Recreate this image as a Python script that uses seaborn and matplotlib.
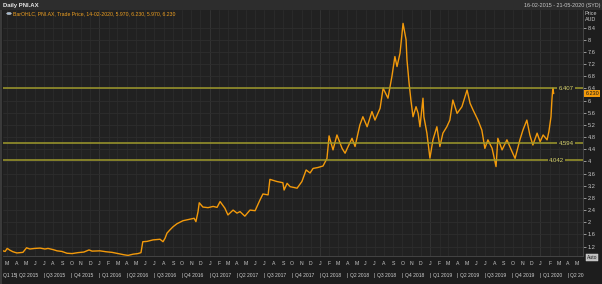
import matplotlib
matplotlib.use("Agg")
import matplotlib.pyplot as plt
from matplotlib.patches import Rectangle, Circle
import seaborn as sns
import pandas as pd

# ---------------- data ----------------
dates = [
    "2015-02-16", "2015-02-23", "2015-03-02", "2015-03-11", "2015-03-21", "2015-04-03", "2015-04-23",
    "2015-05-05", "2015-05-16", "2015-06-02", "2015-06-19", "2015-07-05", "2015-07-15", "2015-08-01",
    "2015-08-14", "2015-08-30", "2015-09-16", "2015-10-03", "2015-10-22", "2015-11-11", "2015-11-28",
    "2015-12-08", "2016-01-03", "2016-01-23", "2016-02-12", "2016-03-03", "2016-03-23", "2016-04-05",
    "2016-04-22", "2016-05-08", "2016-05-18", "2016-05-24", "2016-06-07", "2016-06-27", "2016-07-20",
    "2016-07-30", "2016-08-06", "2016-08-12", "2016-08-22", "2016-09-01", "2016-09-14", "2016-10-04",
    "2016-10-27", "2016-11-10", "2016-11-16", "2016-11-23", "2016-11-27", "2016-12-09", "2016-12-26",
    "2017-01-12", "2017-01-25", "2017-02-04", "2017-02-20", "2017-03-02", "2017-03-19", "2017-04-01",
    "2017-04-11", "2017-04-27", "2017-05-14", "2017-05-31", "2017-06-16", "2017-06-26", "2017-07-13",
    "2017-07-19", "2017-08-11", "2017-08-31", "2017-09-04", "2017-09-14", "2017-09-24", "2017-10-17",
    "2017-11-02", "2017-11-16", "2017-11-29", "2017-12-09", "2017-12-25", "2018-01-11", "2018-01-24",
    "2018-01-31", "2018-02-13", "2018-02-26", "2018-03-15", "2018-03-25", "2018-04-04", "2018-04-17",
    "2018-04-27", "2018-05-13", "2018-05-23", "2018-06-06", "2018-06-22", "2018-07-02", "2018-07-19",
    "2018-07-29", "2018-08-14", "2018-08-27", "2018-09-06", "2018-09-13", "2018-09-23", "2018-10-03",
    "2018-10-13", "2018-10-16", "2018-10-23", "2018-10-29", "2018-11-05", "2018-11-15", "2018-11-22",
    "2018-11-28", "2018-12-08", "2018-12-11", "2018-12-21", "2018-12-31", "2019-01-10", "2019-01-23",
    "2019-02-02", "2019-02-12", "2019-02-25", "2019-03-07", "2019-03-17", "2019-03-31", "2019-04-16",
    "2019-05-03", "2019-05-13", "2019-05-23", "2019-06-08", "2019-06-21", "2019-07-01", "2019-07-11",
    "2019-07-25", "2019-08-07", "2019-08-13", "2019-08-27", "2019-09-12", "2019-09-29", "2019-10-09",
    "2019-10-25", "2019-11-04", "2019-11-17", "2019-11-27", "2019-12-07", "2019-12-21", "2019-12-31",
    "2020-01-10", "2020-01-23", "2020-01-29", "2020-02-05", "2020-02-08", "2020-02-11", "2020-02-14",
]
prices = [
    1.06, 1.04, 1.14, 1.08, 1.03, 0.99, 1.01,
    1.16, 1.12, 1.14, 1.15, 1.12, 1.14, 1.10,
    1.06, 1.04, 0.98, 0.97, 1.00, 1.02, 1.09,
    1.05, 1.06, 1.03, 1.01, 0.97, 0.93, 0.91,
    0.95, 0.97, 1.00, 1.36, 1.37, 1.42, 1.44,
    1.36, 1.48, 1.64, 1.75, 1.85, 1.95, 2.05,
    2.10, 2.13, 2.02, 2.35, 2.64, 2.50, 2.48,
    2.52, 2.49, 2.68, 2.46, 2.24, 2.40, 2.30,
    2.35, 2.20, 2.40, 2.38, 2.73, 2.93, 2.90,
    3.41, 3.34, 3.30, 3.06, 3.28, 3.17, 3.12,
    3.34, 3.72, 3.62, 3.77, 3.80, 3.85, 4.10,
    4.84, 4.38, 4.87, 4.43, 4.27, 4.49, 4.76,
    4.49, 5.20, 5.47, 5.14, 5.64, 5.36, 5.75,
    6.41, 6.08, 6.79, 7.45, 7.12, 7.56, 8.54,
    8.00, 7.34, 6.57, 6.02, 5.47, 5.80, 5.58,
    5.14, 6.08, 5.47, 4.93, 4.11, 4.71, 5.14,
    4.49, 4.93, 5.14, 5.36, 6.02, 5.58, 5.80,
    6.35, 5.91, 5.69, 5.36, 5.03, 4.43, 4.71,
    4.43, 3.83, 4.76, 4.38, 4.71, 4.32, 4.10,
    4.71, 5.03, 5.36, 4.87, 4.54, 4.93, 4.65,
    4.87, 4.71, 4.98, 5.47, 6.02, 6.41, 6.23,
]
level_values = [6.407, 4.594, 4.042]
level_labels = ["6.407", "4.594", "4.042"]
level_label_dates = ["2020-03-26", "2020-03-26", "2020-02-24"]
last_price = 6.23
last_price_label = "6.230"
ytick_values = [1.2, 1.6, 2.0, 2.4, 2.8, 3.2, 3.6, 4.0, 4.4, 4.8, 5.2, 5.6, 6.0, 6.4, 6.8, 7.2, 7.6, 8.0, 8.4]
x_start, x_end = "2015-02-16", "2020-05-21"
title_text = "Daily PNI.AX"
legend_text = "BarOHLC, PNI.AX, Trade Price, 14-02-2020, 5.970, 6.230, 5.970, 6.230"
range_text = "16-02-2015 - 21-05-2020 (SYD)"
axis_title = ["Price", "AUD"]

# ---------------- style ----------------
sns.set_theme(style="dark")
plt.rcParams["font.family"] = ["Liberation Sans", "DejaVu Sans"]

W, H = 602, 284
fig = plt.figure(figsize=(W / 100, H / 100), dpi=100)
fig.patch.set_facecolor("#1d1d1d")

ax_l, ax_r, ax_t, ax_b = 3, 583, 10, 256
ax = fig.add_axes([ax_l / W, (H - ax_b) / H, (ax_r - ax_l) / W, (ax_b - ax_t) / H])
ax.set_facecolor("#212121")

df = pd.DataFrame({"date": pd.to_datetime(dates), "price": prices})

# grid: monthly verticals, 0.4 horizontals
months = pd.date_range("2015-03-01", "2020-05-01", freq="MS")
for m in months:
    ax.axvline(m, color="#363636" if m.month == 1 else "#2b2b2b", lw=0.6, zorder=0)
for yv in ytick_values:
    ax.axhline(yv, color="#2d2d2d", lw=0.6, zorder=0)

sns.lineplot(data=df, x="date", y="price", ax=ax, color="#f39a0b", linewidth=1.0, zorder=3)

xs, xe = pd.Timestamp(x_start), pd.Timestamp(x_end)
ax.set_xlim(xs, xe)
ax.set_ylim(0.89, 8.98)
ax.grid(False)

# level lines
for v, lab, d in zip(level_values, level_labels, level_label_dates):
    ax.axhline(v, color="#9f9a2c", lw=1.1, zorder=4)
    ax.text(pd.Timestamp(d), v, lab, color="#dcd76e", fontsize=4.3, ha="center", va="center", zorder=5,
            bbox=dict(boxstyle="square,pad=0.2", fc="#212121", ec="none"))

# y axis on right
ax.yaxis.tick_right()
ax.set_yticks(ytick_values)
ax.set_yticklabels([f"{v:g}" for v in ytick_values])
ax.tick_params(axis="y", colors="#c8c8c8", labelsize=4.1, length=2, width=0.5, pad=1.5, right=True)
ax.set_ylabel("")
ax.set_xlabel("")

# x axis: month letters
ax.set_xticks(months)
ax.set_xticklabels([m.strftime("%b")[0] for m in months])
ax.tick_params(axis="x", colors="#c8c8c8", labelsize=3.7, length=0, pad=3.5, bottom=True)

for s in ["top", "left"]:
    ax.spines[s].set_visible(False)
ax.spines["bottom"].set_color("#4a4a4a")
ax.spines["bottom"].set_linewidth(0.6)
ax.spines["right"].set_color("#4a4a4a")
ax.spines["right"].set_linewidth(0.6)

# quarter labels
trans = ax.get_xaxis_transform()
quarters = pd.date_range("2015-04-01", "2020-04-01", freq="QS")
q_y = (ax_b - 275) / (ax_b - ax_t)
ax.text(xs, q_y, "Q1 15", transform=trans, color="#cfcfcf", fontsize=3.6, ha="left", va="center", clip_on=False)
for q in quarters:
    qn = (q.month - 1) // 3 + 1
    lab = f"Q{qn} 20" if (q.year == 2020 and qn == 2) else f"Q{qn} {q.year}"
    ax.text(q, q_y, "|", transform=trans, color="#cfcfcf", fontsize=3.6, ha="center", va="center", clip_on=False)
    ax.text(q + pd.Timedelta(days=8), q_y, lab, transform=trans, color="#cfcfcf", fontsize=3.6,
            ha="left", va="center", clip_on=False)

# last-price tag
ax.text(1.004, last_price, last_price_label, transform=ax.get_yaxis_transform(), color="#1a1a1a",
        fontsize=4.0, ha="left", va="center", clip_on=False, zorder=6,
        bbox=dict(boxstyle="square,pad=0.2", fc="#f39a0b", ec="none"))

# header bar and texts
fig.patches.append(Rectangle((0, (H - ax_t) / H), 1, ax_t / H, transform=fig.transFigure,
                             fc="#2d2d2d", ec="none", zorder=0))
fig.patches.append(Rectangle((0, 0), 2 / W, (H - ax_t) / H, transform=fig.transFigure,
                             fc="#3a3a3a", ec="none", zorder=0))
fig.text(3 / W, 1 - 5 / H, title_text, color="#e8e8e8", fontsize=4.3, ha="left", va="center", fontweight="bold")
fig.text(600 / W, 1 - 5 / H, range_text, color="#c8c8c8", fontsize=3.9, ha="right", va="center")
fig.patches.append(Circle((9 / W, 1 - 13.5 / H), 2.3 / W, transform=fig.transFigure,
                          fc="#9fb8d0", ec="#e0e0e0", lw=0.3, zorder=5))
fig.text(13 / W, 1 - 13.5 / H, legend_text, color="#f0a020", fontsize=3.7, ha="left", va="center")
fig.text(591 / W, 1 - 13.5 / H, axis_title[0], color="#c8c8c8", fontsize=3.9, ha="center", va="center")
fig.text(591 / W, 1 - 19.5 / H, axis_title[1], color="#c8c8c8", fontsize=3.9, ha="center", va="center")
fig.text(592 / W, 1 - 257.5 / H, "Auto", color="#202020", fontsize=3.6, ha="center", va="center",
         bbox=dict(boxstyle="square,pad=0.2", fc="#bdbdbd", ec="#e0e0e0", lw=0.3))

fig.savefig("out.png", dpi=100, facecolor=fig.get_facecolor())
